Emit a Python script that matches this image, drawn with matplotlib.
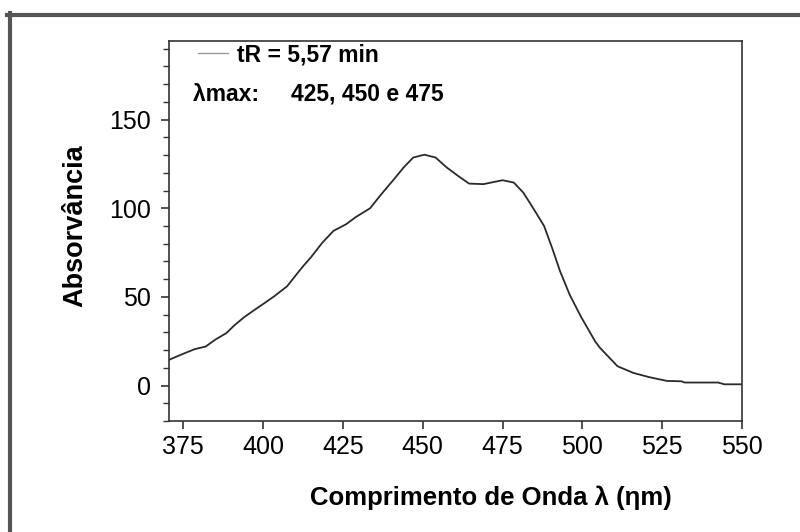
import matplotlib
matplotlib.use("Agg")
import matplotlib.pyplot as plt
from matplotlib.lines import Line2D
from matplotlib.ticker import MultipleLocator

plt.rcParams['font.family'] = ['Liberation Sans', 'DejaVu Sans']

# Spectre UV-Vis (nm, absorbance)
comprimento = [370.5, 374, 378.5, 382, 385, 388.5, 391, 394, 397, 400.5,
               403.5, 407.5, 410, 412.5, 415, 418.5, 422, 426, 429, 433.5,
               437, 441, 444, 447, 450.5, 454, 457.5, 461, 464.5, 469,
               475, 478.5, 481.5, 484.5, 488, 490.5, 493, 496, 499.5, 504,
               505.5, 511, 516, 521, 526.5, 531, 532, 542.5, 544.5, 550]
absorvancia = [14.5, 17.2, 20.5, 22, 25.9, 29.6, 34, 38.5, 42.3, 46.6,
               50.4, 56, 61.7, 67.3, 72.4, 80.5, 87.2, 91, 95, 100,
               107.9, 116.4, 123, 128.6, 130.2, 128.6, 123, 118.3, 113.9, 113.6,
               115.8, 114.5, 108.8, 100.3, 90, 77.7, 64.5, 51.3, 39, 24.9,
               21.3, 10.9, 7.1, 4.7, 2.6, 2.4, 1.7, 1.7, 0.7, 0.7]

xticks = [375, 400, 425, 450, 475, 500, 525, 550]
yticks = [0, 50, 100, 150]
legenda = "tR = 5,57 min"
picos = "λmax:     425, 450 e 475"

W, H = 800, 532
fig = plt.figure(figsize=(W / 100, H / 100), dpi=100)

# cadre gris extérieur
fig.add_artist(Line2D([7 / W, 1], [1 - 14.7 / H] * 2, color='#555555', lw=3))
fig.add_artist(Line2D([9.5 / W] * 2, [0, 1 - 12.7 / H], color='#555555', lw=3))

ax = fig.add_axes([169 / W, 1 - 421 / H, (742 - 169) / W, (421 - 40.7) / H])
ax.plot(comprimento, absorvancia, color='#2a2a2a', lw=1.3)

ax.set_xlim(370.5, 550)
ax.set_ylim(-20, 194.5)
ax.set_xticks(xticks)
ax.set_yticks(yticks)
ax.yaxis.set_minor_locator(MultipleLocator(10))
ax.tick_params(axis='both', which='major', direction='out', length=6,
               width=1.2, labelsize=18, color='#333333')
ax.tick_params(axis='y', which='minor', direction='out', length=4, width=1,
               color='#333333')
ax.tick_params(axis='y', pad=7)
ax.tick_params(axis='x', pad=4)
for s in ax.spines.values():
    s.set_linewidth(1.2)
    s.set_color('#333333')

fig.text(75 / W, 1 - 226 / H, "Absorvância", rotation=90, fontsize=19.5,
         fontweight='bold', ha='center', va='center')
fig.text(491 / W, 1 - 498 / H, "Comprimento de Onda λ (ηm)", fontsize=18.5,
         fontweight='bold', ha='center', va='center')

poignee = Line2D([], [], color='#999999', lw=1)
ax.legend([poignee], [legenda], loc='center left',
          bbox_to_anchor=((198 - 169) / 573, (421 - 55) / 380.3),
          frameon=False, borderpad=0, borderaxespad=0, handlelength=1.3,
          handletextpad=0.4, prop={'size': 16.5, 'weight': 'bold'})
ax.text((193 - 169) / 573, (421 - 94) / 380.3, picos, transform=ax.transAxes,
        fontsize=16.5, fontweight='bold', ha='left', va='center')

fig.savefig("out.png", dpi=100)
